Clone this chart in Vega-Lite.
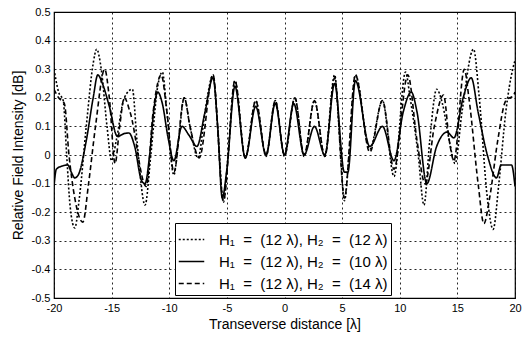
{
  "$schema": "https://vega.github.io/schema/vega-lite/v6.json",
  "autosize": "none",
  "width": 461,
  "height": 286,
  "padding": {"left": 54, "top": 12, "right": 9, "bottom": 41},
  "background": "white",
  "config": {
    "font": "Liberation Sans",
    "view": {"stroke": "black", "strokeWidth": 1.2},
    "axis": {
      "labelFont": "Liberation Sans", "labelFontSize": 11, "labelColor": "black",
      "titleFont": "Liberation Sans", "titleFontSize": 14, "titleFontWeight": "normal", "titleColor": "black",
      "domain": false, "ticks": false, "labelFlush": false,
      "grid": true, "gridColor": "black", "gridDash": [2, 3], "gridWidth": 1, "gridOpacity": 0.85
    }
  },
  "datasets": {
    "curves": [
      {"s": "b", "x": -20, "y": -0.11},
      {"s": "b", "x": -19.8, "y": -0.05},
      {"s": "b", "x": -19.4, "y": -0.04},
      {"s": "b", "x": -18.8, "y": -0.035},
      {"s": "b", "x": -18.5, "y": -0.06},
      {"s": "b", "x": -18.2, "y": -0.08},
      {"s": "b", "x": -17.9, "y": -0.07},
      {"s": "b", "x": -17.2, "y": 0.05},
      {"s": "b", "x": -16.6, "y": 0.2},
      {"s": "b", "x": -16.2, "y": 0.28},
      {"s": "b", "x": -15.8, "y": 0.25},
      {"s": "b", "x": -15.2, "y": 0.17},
      {"s": "b", "x": -14.5, "y": 0.065},
      {"s": "b", "x": -13.9, "y": 0.075},
      {"s": "b", "x": -13.5, "y": 0.077},
      {"s": "b", "x": -13.0, "y": 0.03},
      {"s": "b", "x": -12.4, "y": -0.09},
      {"s": "b", "x": -12.1, "y": -0.1},
      {"s": "b", "x": -11.7, "y": 0.0},
      {"s": "b", "x": -11.3, "y": 0.17},
      {"s": "b", "x": -11.0, "y": 0.22},
      {"s": "b", "x": -10.6, "y": 0.18},
      {"s": "b", "x": -10.1, "y": 0.06},
      {"s": "b", "x": -9.6, "y": -0.02},
      {"s": "b", "x": -8.9, "y": 0.1},
      {"s": "b", "x": -8.3, "y": 0.07},
      {"s": "b", "x": -7.6, "y": 0.03},
      {"s": "b", "x": -6.9, "y": 0.15},
      {"s": "b", "x": -6.2, "y": 0.27},
      {"s": "b", "x": -5.8, "y": 0.1},
      {"s": "b", "x": -5.4, "y": -0.15},
      {"s": "b", "x": -5.0, "y": -0.05},
      {"s": "b", "x": -4.3, "y": 0.24},
      {"s": "b", "x": -3.4, "y": -0.01},
      {"s": "b", "x": -2.5, "y": 0.17},
      {"s": "b", "x": -1.6, "y": 0.0},
      {"s": "b", "x": -0.8, "y": 0.18},
      {"s": "b", "x": 0.0, "y": 0.0},
      {"s": "b", "x": 0.8, "y": 0.18},
      {"s": "b", "x": 1.7, "y": 0.0},
      {"s": "b", "x": 2.6, "y": 0.1},
      {"s": "b", "x": 3.5, "y": 0.0},
      {"s": "b", "x": 4.35, "y": 0.25},
      {"s": "b", "x": 5.2, "y": -0.06},
      {"s": "b", "x": 5.5, "y": -0.06},
      {"s": "b", "x": 6.15, "y": 0.26},
      {"s": "b", "x": 7.4, "y": 0.03},
      {"s": "b", "x": 8.5, "y": 0.1},
      {"s": "b", "x": 9.5, "y": -0.02},
      {"s": "b", "x": 10.3, "y": 0.15},
      {"s": "b", "x": 11.0, "y": 0.22},
      {"s": "b", "x": 11.5, "y": 0.15},
      {"s": "b", "x": 12.35, "y": -0.1},
      {"s": "b", "x": 13.2, "y": 0.03},
      {"s": "b", "x": 14.1, "y": 0.08},
      {"s": "b", "x": 14.7, "y": 0.06},
      {"s": "b", "x": 15.5, "y": 0.2},
      {"s": "b", "x": 16.2, "y": 0.27},
      {"s": "b", "x": 16.8, "y": 0.15},
      {"s": "b", "x": 17.6, "y": 0.0},
      {"s": "b", "x": 18.4, "y": -0.08},
      {"s": "b", "x": 18.8, "y": -0.035},
      {"s": "b", "x": 19.7, "y": -0.035},
      {"s": "b", "x": 20, "y": -0.11},

      {"s": "a", "x": -20, "y": 0.3},
      {"s": "a", "x": -19.6, "y": 0.22},
      {"s": "a", "x": -19.2, "y": 0.19},
      {"s": "a", "x": -18.9, "y": 0.0},
      {"s": "a", "x": -18.6, "y": -0.18},
      {"s": "a", "x": -18.2, "y": -0.255},
      {"s": "a", "x": -17.8, "y": -0.15},
      {"s": "a", "x": -17.2, "y": 0.1},
      {"s": "a", "x": -16.6, "y": 0.32},
      {"s": "a", "x": -16.3, "y": 0.37},
      {"s": "a", "x": -15.9, "y": 0.3},
      {"s": "a", "x": -15.4, "y": 0.1},
      {"s": "a", "x": -15.0, "y": -0.02},
      {"s": "a", "x": -14.6, "y": 0.05},
      {"s": "a", "x": -13.9, "y": 0.2},
      {"s": "a", "x": -13.2, "y": 0.23},
      {"s": "a", "x": -12.8, "y": 0.05},
      {"s": "a", "x": -12.1, "y": -0.175},
      {"s": "a", "x": -11.6, "y": 0.0},
      {"s": "a", "x": -11.0, "y": 0.24},
      {"s": "a", "x": -10.6, "y": 0.29},
      {"s": "a", "x": -10.2, "y": 0.15},
      {"s": "a", "x": -9.6, "y": -0.07},
      {"s": "a", "x": -9.2, "y": 0.05},
      {"s": "a", "x": -8.7, "y": 0.2},
      {"s": "a", "x": -8.2, "y": 0.1},
      {"s": "a", "x": -7.5, "y": -0.01},
      {"s": "a", "x": -6.9, "y": 0.15},
      {"s": "a", "x": -6.2, "y": 0.28},
      {"s": "a", "x": -5.8, "y": 0.1},
      {"s": "a", "x": -5.3, "y": -0.165},
      {"s": "a", "x": -4.9, "y": 0.0},
      {"s": "a", "x": -4.3, "y": 0.26},
      {"s": "a", "x": -3.4, "y": -0.01},
      {"s": "a", "x": -2.5, "y": 0.19},
      {"s": "a", "x": -1.6, "y": -0.005},
      {"s": "a", "x": -0.8, "y": 0.19},
      {"s": "a", "x": 0.0, "y": -0.005},
      {"s": "a", "x": 0.9, "y": 0.2},
      {"s": "a", "x": 1.7, "y": -0.005},
      {"s": "a", "x": 2.6, "y": 0.19},
      {"s": "a", "x": 3.5, "y": -0.005},
      {"s": "a", "x": 4.35, "y": 0.28},
      {"s": "a", "x": 4.8, "y": 0.05},
      {"s": "a", "x": 5.2, "y": -0.16},
      {"s": "a", "x": 5.6, "y": 0.0},
      {"s": "a", "x": 6.15, "y": 0.28},
      {"s": "a", "x": 7.4, "y": 0.02},
      {"s": "a", "x": 8.5, "y": 0.19},
      {"s": "a", "x": 9.5, "y": -0.075},
      {"s": "a", "x": 10.5, "y": 0.29},
      {"s": "a", "x": 10.9, "y": 0.2},
      {"s": "a", "x": 11.6, "y": 0.0},
      {"s": "a", "x": 12.1, "y": -0.175},
      {"s": "a", "x": 12.6, "y": 0.05},
      {"s": "a", "x": 13.2, "y": 0.23},
      {"s": "a", "x": 13.7, "y": 0.18},
      {"s": "a", "x": 14.3, "y": 0.05},
      {"s": "a", "x": 14.8, "y": -0.03},
      {"s": "a", "x": 15.4, "y": 0.15},
      {"s": "a", "x": 16.4, "y": 0.37},
      {"s": "a", "x": 16.9, "y": 0.2},
      {"s": "a", "x": 17.6, "y": -0.15},
      {"s": "a", "x": 18.1, "y": -0.26},
      {"s": "a", "x": 18.6, "y": -0.1},
      {"s": "a", "x": 19.2, "y": 0.15},
      {"s": "a", "x": 19.8, "y": 0.3},
      {"s": "a", "x": 20, "y": 0.33},

      {"s": "c", "x": -20, "y": 0.23},
      {"s": "c", "x": -19.6, "y": 0.2},
      {"s": "c", "x": -19.1, "y": 0.18},
      {"s": "c", "x": -18.7, "y": 0.0},
      {"s": "c", "x": -18.2, "y": -0.15},
      {"s": "c", "x": -17.5, "y": -0.235},
      {"s": "c", "x": -17.0, "y": -0.1},
      {"s": "c", "x": -16.4, "y": 0.1},
      {"s": "c", "x": -15.6, "y": 0.3},
      {"s": "c", "x": -15.2, "y": 0.2},
      {"s": "c", "x": -14.7, "y": -0.03},
      {"s": "c", "x": -14.3, "y": 0.1},
      {"s": "c", "x": -13.9, "y": 0.2},
      {"s": "c", "x": -13.4, "y": 0.15},
      {"s": "c", "x": -12.0, "y": -0.11},
      {"s": "c", "x": -11.4, "y": 0.15},
      {"s": "c", "x": -10.7, "y": 0.28},
      {"s": "c", "x": -10.2, "y": 0.15},
      {"s": "c", "x": -9.6, "y": -0.06},
      {"s": "c", "x": -8.7, "y": 0.2},
      {"s": "c", "x": -8.2, "y": 0.1},
      {"s": "c", "x": -7.4, "y": -0.01},
      {"s": "c", "x": -6.2, "y": 0.28},
      {"s": "c", "x": -5.3, "y": -0.16},
      {"s": "c", "x": -4.3, "y": 0.26},
      {"s": "c", "x": -3.4, "y": -0.01},
      {"s": "c", "x": -2.5, "y": 0.19},
      {"s": "c", "x": -1.6, "y": 0.0},
      {"s": "c", "x": -0.8, "y": 0.19},
      {"s": "c", "x": 0.0, "y": 0.0},
      {"s": "c", "x": 0.9, "y": 0.2},
      {"s": "c", "x": 1.7, "y": 0.0},
      {"s": "c", "x": 2.6, "y": 0.19},
      {"s": "c", "x": 3.5, "y": -0.005},
      {"s": "c", "x": 4.35, "y": 0.27},
      {"s": "c", "x": 5.2, "y": -0.15},
      {"s": "c", "x": 6.15, "y": 0.28},
      {"s": "c", "x": 7.4, "y": 0.01},
      {"s": "c", "x": 8.5, "y": 0.19},
      {"s": "c", "x": 9.5, "y": -0.05},
      {"s": "c", "x": 10.7, "y": 0.28},
      {"s": "c", "x": 11.5, "y": 0.05},
      {"s": "c", "x": 12.2, "y": -0.1},
      {"s": "c", "x": 13.0, "y": 0.1},
      {"s": "c", "x": 13.8, "y": 0.21},
      {"s": "c", "x": 14.3, "y": 0.05},
      {"s": "c", "x": 14.7, "y": -0.02},
      {"s": "c", "x": 15.6, "y": 0.3},
      {"s": "c", "x": 16.0, "y": 0.2},
      {"s": "c", "x": 16.8, "y": -0.1},
      {"s": "c", "x": 17.3, "y": -0.24},
      {"s": "c", "x": 17.8, "y": -0.15},
      {"s": "c", "x": 18.5, "y": 0.05},
      {"s": "c", "x": 19.2, "y": 0.19},
      {"s": "c", "x": 19.9, "y": 0.21},
      {"s": "c", "x": 20, "y": 0.22}
    ]
  },
  "data": {"name": "curves"},
  "mark": {"type": "line", "interpolate": "monotone", "color": "black", "strokeWidth": 1.6, "clip": true},
  "encoding": {
    "x": {
      "field": "x", "type": "quantitative",
      "scale": {"domain": [-20, 20], "nice": false},
      "axis": {"values": [-20, -15, -10, -5, 0, 5, 10, 15, 20], "title": "Transeverse distance [λ]", "labelPadding": 4, "titlePadding": 4, "labelExpr": "'' + datum.value"}
    },
    "y": {
      "field": "y", "type": "quantitative",
      "scale": {"domain": [-0.5, 0.5], "nice": false},
      "axis": {"values": [-0.5, -0.4, -0.3, -0.2, -0.1, 0, 0.1, 0.2, 0.3, 0.4, 0.5], "title": "Relative Field Intensity [dB]", "labelPadding": 4, "titlePadding": 6, "labelExpr": "'' + datum.value"}
    },
    "strokeDash": {
      "field": "s", "type": "nominal",
      "scale": {
        "domain": ["a", "b", "c"],
        "range": [[2, 2], [1, 0], [5, 3]]
      },
      "legend": {
        "title": null, "orient": "none", "legendX": 121, "legendY": 211,
        "fillColor": "white", "strokeColor": "black", "padding": 3,
        "symbolType": "stroke", "symbolSize": 650, "symbolStrokeColor": "black", "symbolStrokeWidth": 1.5,
        "labelFont": "Liberation Sans", "labelFontSize": 15, "labelColor": "black", "labelLimit": 300,
        "rowPadding": -6, "labelOffset": 14,
        "labelExpr": "datum.value == 'a' ? 'H₁ \u00a0=\u00a0 (12 λ), H₂ \u00a0=\u00a0 (12 λ)' : datum.value == 'b' ? 'H₁ \u00a0=\u00a0 (12 λ), H₂ \u00a0=\u00a0 (10 λ)' : 'H₁ \u00a0=\u00a0 (12 λ), H₂ \u00a0=\u00a0 (14 λ)'"
      }
    }
  }
}
